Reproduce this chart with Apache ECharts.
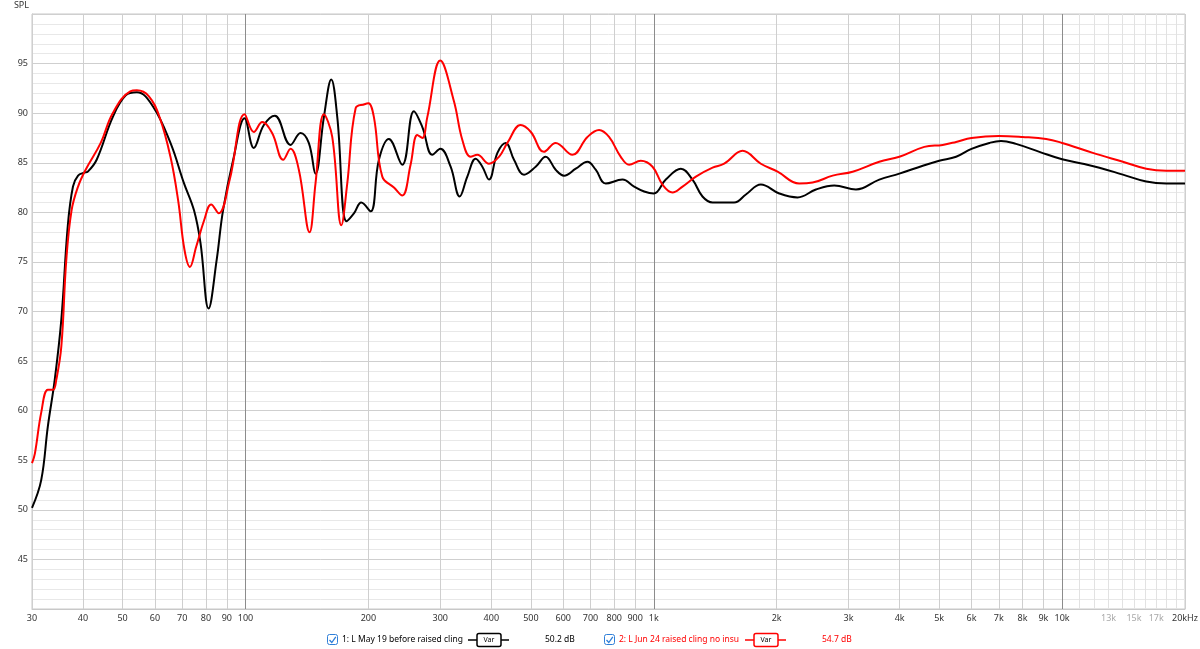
<!DOCTYPE html>
<html><head><meta charset="utf-8">
<script src="https://cdn.jsdelivr.net/npm/echarts@6/dist/echarts.min.js"></script>
<style>html,body{margin:0;padding:0;background:#fff}#c{width:1200px;height:649px}</style>
</head><body><div id="c"></div>
<script>
// ---- data (frequency in Hz, SPL in dB) ----
const blackFreq = [30,31.6,32.8,34.1,35.4,36.7,37.8,38.9,40.3,41.1,43.2,47.3,50.9,54.2,59.3,65.5,70.6,74.8,77.6,81.2,85,88.1,93.3,99.5,
  104.8,110.9,118,128.9,136.4,142.9,148.4,155.6,162.2,167.8,176.8,184.3,192.1,202.5,212.2,224.5,242.1,258.5,271.1,286.9,300,
  318,334.6,349.4,366.2,380.3,394.8,414,433.8,454.6,481,513.7,543.5,575,602.8,644,688,720.7,762.7,838,895,947,1000,
  1070,1165,1244,1316,1393,1573,1681,1829,2029,2250,2495,2767,3127,3567,3994,4560,5000,5500,6000,6636,7085,7710,8800,
  10000,11240,12340,14090,16070,17990,20000];
const blackSPL = [50.2,53.0,58.4,63.1,69.2,78.6,82.6,83.7,84.0,84.1,85.3,89.6,91.8,92.1,90.7,87.0,83.0,80.2,76.9,70.3,75.2,80.2,85.3,89.5,
  86.5,88.8,89.75,86.8,88.0,87.0,83.9,89.6,93.4,89.6,79.1,79.9,81.0,80.1,85.3,87.4,84.8,90.2,88.6,85.8,86.4,
  84.6,81.6,83.6,85.4,84.6,83.3,86.0,87.0,85.3,83.8,84.6,85.6,84.3,83.7,84.4,85.1,84.3,82.9,83.3,82.6,82.1,81.9,
  83.3,84.4,83.3,81.6,81.0,81.0,81.8,82.8,81.9,81.5,82.3,82.7,82.3,83.3,83.9,84.7,85.2,85.6,86.4,87.0,87.2,86.9,86.1,
  85.35,84.9,84.5,83.8,83.1,82.9,82.9];

const redFreq = [30,30.5,31.6,32.8,33.8,34.4,35.4,36.4,37.5,38.9,40.6,44.2,47.3,52.2,54.2,58,61.6,65.5,68.4,70.9,73.1,75.7,79.2,82.4,86,91.5,99.5,
  104.8,109.9,116.2,123.7,128.9,135.1,143.5,148.4,155.6,163.1,171.7,177.5,186.1,195.7,200,206.3,216.3,231,242.1,253.7,263.5,271.1,278.8,300,
  324,339.7,356,369.7,394.8,417.7,437.9,472,500,538,575,632,688,734.5,777,830,870,929,993,
  1050,1111,1176,1268,1393,1487,1650,1829,2010,2270,2449,2742,3069,3567,3994,4598,5100,5500,6000,7000,8000,9140,
  10000,11890,14090,16070,17990,20000];
const redSPL = [54.7,55.7,59.8,62.1,62.1,63.1,66.5,75.2,80.2,82.6,84.3,87.0,90.0,92.2,92.3,91.7,89.6,85.6,81.2,76.2,74.5,76.5,79.2,80.8,79.9,83.3,89.9,
  88.1,89.1,88.0,85.3,86.4,84.3,78.0,82.9,89.9,87.6,78.7,82.9,90.5,90.9,91.0,89.6,83.6,82.5,81.7,84.8,87.8,87.5,89.6,95.3,
  91.2,87.3,85.6,85.8,84.9,85.6,87.0,88.8,88.1,86.1,87.0,85.8,87.6,88.3,87.6,85.6,84.8,85.2,84.6,
  82.8,82.0,82.6,83.6,84.5,84.9,86.2,84.9,84.1,82.9,83.0,83.7,84.1,85.1,85.6,86.6,86.8,87.1,87.5,87.7,87.6,87.4,
  87.0,86.0,85.1,84.4,84.2,84.2];

// ---- axis ticks ----
const labelTicks = [30,40,50,60,70,80,90,100,200,300,400,500,600,700,800,900,1000,2000,3000,4000,5000,6000,7000,8000,9000,10000,13000,15000,17000,20000];
const decadeTicks = [100,1000,10000];
const faintTicks = [11000,12000,14000,16000,18000,19000];
const greyLabelTicks = [13000,15000,17000];
const seriesNames = ['1: L May 19 before raised cling','2: L Jun 24 raised cling no insu'];
const seriesLevels = ['50.2 dB','54.7 dB'];
const seriesColors = ['#000000','#ff0000'];

const FONT = '"Noto Sans", "Open Sans", sans-serif';
function fmtFreq(f){ if (f === 20000) return '20kHz'; return f < 1000 ? String(f) : (f/1000) + 'k'; }
function zip(a,b){ return a.map((v,i)=>[v,b[i]]); }

const gridItems = [];
labelTicks.forEach(f => {
  const isDec = decadeTicks.includes(f), isGrey = greyLabelTicks.includes(f);
  gridItems.push({
    xAxis: f,
    lineStyle: {color: isDec ? '#8c8c8c' : (isGrey ? '#e2e2e2' : '#cfcfcf'), width: 1, type: 'solid'},
    label: {show: true, formatter: fmtFreq(f), color: isGrey ? '#a8a8a8' : '#333'}
  });
});
faintTicks.forEach(f => gridItems.push({xAxis: f, lineStyle: {color:'#e2e2e2', width:1, type:'solid'}, label:{show:false}}));

const chart = echarts.init(document.getElementById('c'), null, {renderer: 'canvas'});

// legend graphics
function legendGroup(x0, i){
  const col = seriesColors[i];
  const y = 640;
  const lx = x0 + 141;
  return [
    {type:'rect', shape:{x:x0+0.5, y:y-5.5, width:10, height:10, r:2}, style:{fill:'#fff', stroke:'#2f7fd8', lineWidth:1}},
    {type:'polyline', shape:{points:[[x0+2.5,y],[x0+4.8,y+2.5],[x0+8.8,y-3.2]]}, style:{stroke:'#2f7fd8', lineWidth:1.3, fill:null}},
    {type:'text', style:{x:x0+15, y:y, text:seriesNames[i], fill:col, fontSize:8.5, fontFamily:FONT, verticalAlign:'middle', align:'left'}},
    {type:'line', shape:{x1:lx, y1:y, x2:lx+41, y2:y}, style:{stroke:col, lineWidth:1.5}},
    {type:'rect', shape:{x:lx+9, y:y-6.5, width:24, height:13, r:2}, style:{fill:'#fff', stroke:col, lineWidth:1.5}},
    {type:'text', style:{x:lx+21, y:y, text:'Var', fill:'#000', fontSize:7, fontFamily:FONT, verticalAlign:'middle', align:'center'}},
    {type:'text', style:{x:x0+218, y:y, text:seriesLevels[i], fill:col, fontSize:8.5, fontFamily:FONT, verticalAlign:'middle', align:'left'}}
  ];
}

chart.setOption({
  animation: false,
  backgroundColor: '#fff',
  grid: {left: 32, right: 15, top: 14, bottom: 40, show: true, borderColor: '#c8c8c8', borderWidth: 1, containLabel: false},
  xAxis: {
    type: 'log', logBase: 10, min: 30, max: 20000,
    axisLabel: {show: false}, axisTick: {show: false}, splitLine: {show: false}, minorSplitLine:{show:false},
    axisLine: {show: true, lineStyle: {color: '#c8c8c8'}}
  },
  yAxis: {
    type: 'value', min: 40, max: 100, interval: 5,
    name: 'SPL', nameLocation: 'end', nameGap: 4,
    nameTextStyle: {align: 'right', verticalAlign: 'bottom', color: '#333', fontSize: 9, fontFamily: FONT, padding: [0, 3, 0, 0]},
    axisLabel: {formatter: v => (v === 40 || v === 100) ? '' : String(v), color: '#333', fontSize: 9, fontFamily: FONT, margin: 4},
    axisTick: {show: false},
    axisLine: {show: true, lineStyle: {color: '#c8c8c8'}},
    splitLine: {show: true, lineStyle: {color: '#cfcfcf', width: 1}},
    minorTick: {show: false, splitNumber: 5},
    minorSplitLine: {show: true, lineStyle: {color: '#e8e8e8', width: 1}}
  },
  series: [
    {
      name: 'grid', type: 'line', data: [[30, 40], [20000, 40]], symbol: 'none', silent: true, z: 1,
      lineStyle: {opacity: 0, width: 0},
      markLine: {
        silent: true, symbol: ['none', 'none'], animation: false, z: 1,
        label: {position: 'start', distance: 5, fontSize: 9, fontFamily: FONT},
        data: gridItems
      }
    },
    {name: seriesNames[0], type: 'line', data: zip(blackFreq, blackSPL), smooth: 0.4, symbol: 'none', z: 3,
     lineStyle: {color: seriesColors[0], width: 2}},
    {name: seriesNames[1], type: 'line', data: zip(redFreq, redSPL), smooth: 0.4, symbol: 'none', z: 4,
     lineStyle: {color: seriesColors[1], width: 2}}
  ],
  graphic: [].concat(legendGroup(327, 0), legendGroup(604, 1))
});
</script></body></html>
